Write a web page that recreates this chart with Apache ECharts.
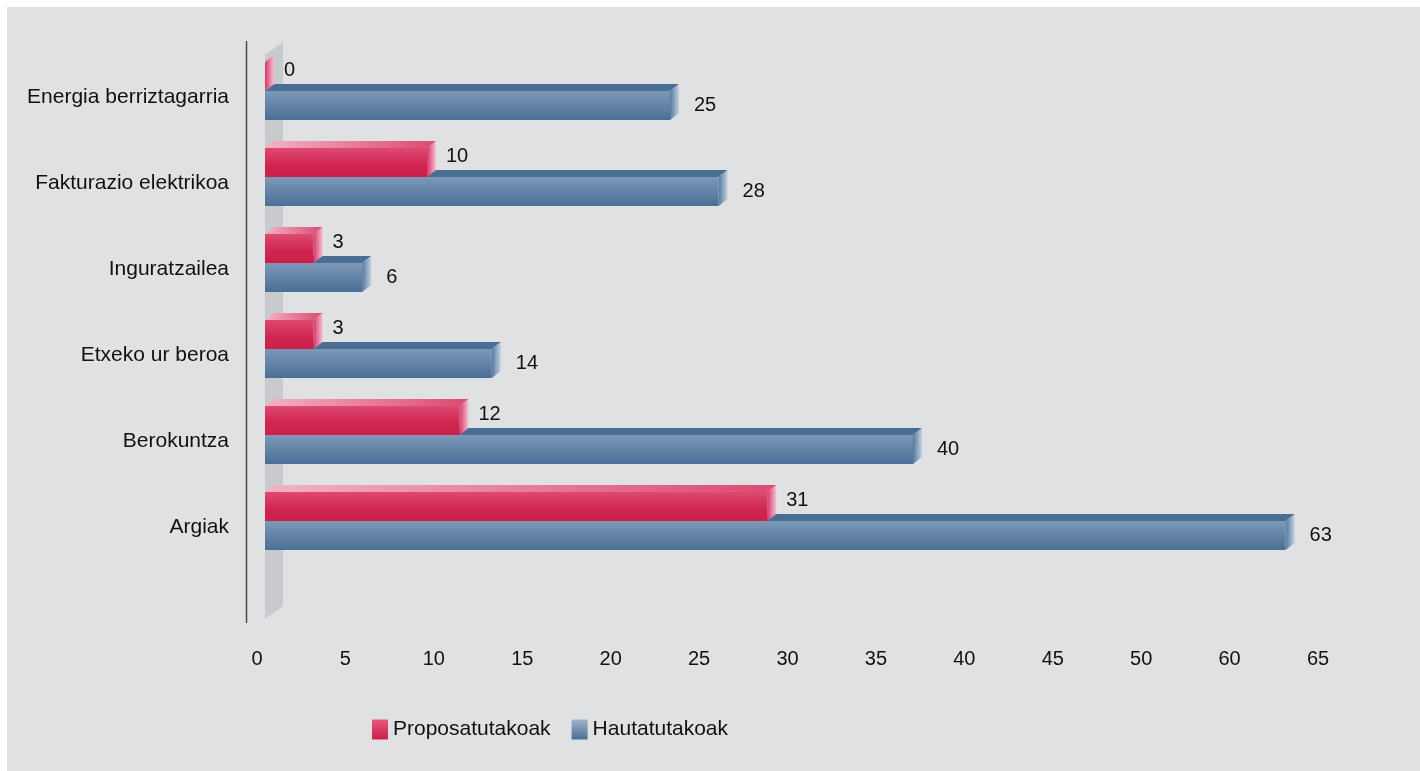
<!DOCTYPE html>
<html>
<head>
<meta charset="utf-8">
<script src="https://cdn.jsdelivr.net/npm/echarts@6/dist/echarts.min.js"></script>
<style>
html, body { margin: 0; padding: 0; background: #fff; }
#bg { position: absolute; left: 7px; top: 7px; width: 1413px; height: 764px; background: #e0e1e3; }
#main { position: absolute; left: 0; top: 0; width: 1420px; height: 771px; }
</style>
</head>
<body>
<div id="bg"></div>
<div id="main"></div>
<script>
// datuak
var categories = ['Energia berriztagarria', 'Fakturazio elektrikoa', 'Inguratzailea', 'Etxeko ur beroa', 'Berokuntza', 'Argiak'];
var proposatutakoak = [0, 10, 3, 3, 12, 31];
var hautatutakoak = [25, 28, 6, 14, 40, 63];
var tickLabels = ['0', '5', '10', '15', '20', '25', '30', '35', '40', '45', '50', '60', '65'];

var FONT = '"Liberation Sans", Arial, Helvetica, sans-serif';
var TXT = '#111';
var G = echarts.graphic.LinearGradient;

var DX = 9, DY = 7, H = 29; // 3D sakonera

var styles = {
	red: {
		front: new G(0, 0, 0, 1, [{offset: 0, color: '#de4a70'}, {offset: 0.6, color: '#cf2550'}, {offset: 1, color: '#cc1f48'}]),
		top: new G(0, 0, 1, 0, [{offset: 0, color: '#f4b1c4'}, {offset: 1, color: '#dc4a71'}]),
		side: new G(0, 0, 1, 0, [{offset: 0, color: '#d6386a'}, {offset: 1, color: '#f5c0d0'}]),
		off: -35, labelDy: -6, gap: 10
	},
	blue: {
		front: new G(0, 0, 0, 1, [{offset: 0, color: '#7d99b7'}, {offset: 1, color: '#4a6e96'}]),
		top: '#4a6d93',
		side: new G(0, 0, 1, 0, [{offset: 0, color: '#56789e'}, {offset: 1, color: '#c2d1e0'}]),
		off: -6, labelDy: 0, gap: 15
	}
};

function makeRender(kind) {
	var s = styles[kind];
	return function (params, api) {
		var cat = api.value(0);
		var v = api.value(1);
		var p0 = api.coord([0, cat]);
		var p1 = api.coord([v, cat]);
		var x0 = p0[0], x1 = p1[0];
		var y0 = p0[1] + s.off;
		return {
			type: 'group',
			children: [
				{ type: 'rect', shape: {x: x0, y: y0, width: x1 - x0, height: H}, style: {fill: s.front} },
				{ type: 'polygon', shape: {points: [[x0, y0], [x0 + DX, y0 - DY], [x1 + DX, y0 - DY], [x1, y0]]}, style: {fill: s.top} },
				{ type: 'polygon', shape: {points: [[x1, y0], [x1 + DX, y0 - DY], [x1 + DX, y0 - DY + H], [x1, y0 + H]]}, style: {fill: s.side} },
				{ type: 'text', style: {
					text: String(v), x: x1 + DX + s.gap, y: y0 + H / 2 + s.labelDy,
					fill: TXT, fontSize: 20, fontFamily: FONT, verticalAlign: 'middle', align: 'left'
				} }
			]
		};
	};
}

function toData(arr) {
	return arr.map(function (v, i) { return [i, v]; });
}

var myChart = echarts.init(document.getElementById('main'));
var option = {
	animation: false,
	grid: [
		{ left: 265, top: 54, width: 1053, height: 516 },
		{ left: 257, top: 54, width: 1061, height: 586 }
	],
	xAxis: [
		{ type: 'value', gridIndex: 0, min: 0, max: 65, show: false },
		{
			type: 'category', gridIndex: 1, data: tickLabels, boundaryGap: false,
			axisLine: {show: false}, axisTick: {show: false}, splitLine: {show: false},
			axisLabel: {interval: 0, margin: 9, fontSize: 20, fontFamily: FONT, color: TXT}
		}
	],
	yAxis: [
		{
			type: 'category', gridIndex: 0, data: categories, inverse: true,
			axisLine: {show: false}, axisTick: {show: false},
			axisLabel: {margin: 36, fontSize: 21, fontFamily: FONT, color: TXT}
		},
		{ type: 'value', gridIndex: 1, show: false }
	],
	legend: {
		left: 367, top: 714,
		itemWidth: 16, itemHeight: 20, itemGap: 21,
		icon: 'rect',
		textStyle: {fontSize: 21, fontFamily: FONT, color: TXT},
		data: ['Proposatutakoak', 'Hautatutakoak']
	},
	graphic: [
		// atzeko horma
		{ type: 'polygon', shape: {points: [[265, 55], [283, 42], [283, 606], [265, 619]]}, style: {fill: '#c9cacd'}, silent: true },
		// ardatz bertikala
		{ type: 'line', shape: {x1: 246.5, y1: 41, x2: 246.5, y2: 623}, style: {stroke: '#4a4a4a', lineWidth: 1.5}, silent: true }
	],
	series: [
		{
			name: 'Hautatutakoak', type: 'custom', xAxisIndex: 0, yAxisIndex: 0,
			renderItem: makeRender('blue'), encode: {x: 1, y: 0},
			itemStyle: {color: new G(0, 0, 0, 1, [{offset: 0, color: '#9fb4ca'}, {offset: 1, color: '#4a6e96'}])},
			data: toData(hautatutakoak), z: 2
		},
		{
			name: 'Proposatutakoak', type: 'custom', xAxisIndex: 0, yAxisIndex: 0,
			renderItem: makeRender('red'), encode: {x: 1, y: 0},
			itemStyle: {color: new G(0, 0, 0, 1, [{offset: 0, color: '#e5587e'}, {offset: 1, color: '#cc1f48'}])},
			data: toData(proposatutakoak), z: 3
		}
	]
};
myChart.setOption(option);
</script>
</body>
</html>
